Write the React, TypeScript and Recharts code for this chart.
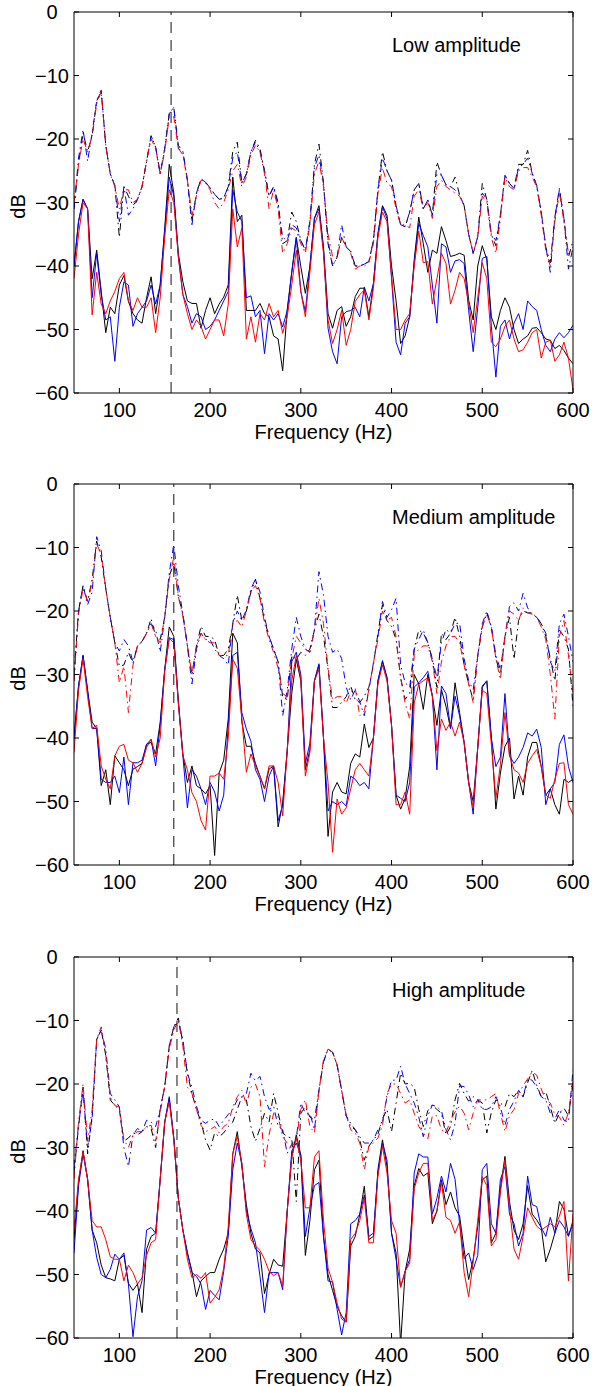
import { LineChart, Line, XAxis, YAxis, ReferenceLine } from "recharts";

const FONT = '"Liberation Sans", Arial, Helvetica, sans-serif';

// frequency grid (Hz)
const freqs = [
  50, 55, 60, 65, 70, 75, 80, 85, 90, 95,
  100, 105, 110, 115, 120, 125, 130, 135, 140, 145,
  150, 155, 160, 165, 170, 175, 180, 185, 190, 195,
  200, 205, 210, 215, 220, 225, 230, 235, 240, 245,
  250, 255, 260, 265, 270, 275, 280, 285, 290, 295,
  300, 305, 310, 315, 320, 325, 330, 335, 340, 345,
  350, 355, 360, 365, 370, 375, 380, 385, 390, 395,
  400, 405, 410, 415, 420, 425, 430, 435, 440, 445,
  450, 455, 460, 465, 470, 475, 480, 485, 490, 495,
  500, 505, 510, 515, 520, 525, 530, 535, 540, 545,
  550, 555, 560, 565, 570, 575, 580, 585, 590, 595,
  600,
];

const xTicks = [100, 200, 300, 400, 500, 600];
const yTicks = [0, -10, -20, -30, -40, -50, -60];

// ---- Low amplitude ----
const lowDashBlack = [
  -31, -24, -19, -22, -19.5, -14, -12.5, -21, -25.5, -27.3,
  -35.5, -27.5, -29, -30.5, -29.5, -27.5, -23.5, -19.5, -21.3, -25.5,
  -21.5, -16, -15, -21, -22, -26.5, -33, -28.5, -26.3, -26.8,
  -27.7, -28.7, -29.5, -29.3, -27.5, -22, -20.5, -27, -25.5, -22,
  -20.2, -21.5, -25, -29, -27.5, -30, -36.5, -36, -31.5, -33,
  -36, -37.5, -33, -24, -20.8, -27, -36.5, -40, -38.6, -35.5,
  -37, -37.7, -40, -40, -39.7, -39.3, -36, -28, -22, -25,
  -26.5, -30.5, -33.5, -33.8, -31.5, -28, -27, -31, -29.6, -32,
  -23.6, -25.7, -27.2, -27.5, -26, -28.8, -30.5, -35, -38, -35.4,
  -27, -29.5, -35, -36.8, -32, -25.7, -27, -27.8, -24, -24,
  -21.8, -25.4, -27.3, -31.5, -37, -39.5, -32.3, -27.8, -32.5, -38.6,
  -36,
];
const lowDashBlue = [
  -31, -23, -18.5, -23.5, -19, -14, -12.3, -21, -25.5, -27.3,
  -33, -27.5, -32, -31, -29.5, -27.5, -23.5, -19.5, -21.3, -25.5,
  -21.5, -16, -15, -21.5, -22, -26.5, -33.5, -28.5, -26.3, -26.8,
  -27.7, -28.7, -29.5, -29.3, -27.5, -23, -22, -27, -25.5, -22,
  -20.5, -22, -25, -29, -27.5, -30.5, -35.5, -36, -33.5, -34,
  -36, -37.5, -33, -24.5, -22.5, -27, -36, -40, -38.6, -33.5,
  -37, -37.7, -40, -40, -39.7, -39.3, -36, -28, -23, -25,
  -26.5, -30.5, -33.5, -33.8, -31.5, -28, -27, -31, -29.6, -32,
  -25.5, -25.7, -27.2, -27.5, -28, -28.8, -30.5, -35, -38, -35.4,
  -28.5, -29.5, -35, -36, -32, -25.7, -27, -27.8, -24.5, -24,
  -23, -25.4, -27.3, -31.5, -37, -41, -32.3, -28, -32.5, -40.5,
  -37,
];
const lowDashRed = [
  -30, -24, -20, -22, -19.5, -14.5, -12.5, -21, -25.5, -27.5,
  -31, -28, -28, -30, -29.5, -27.5, -23.5, -20, -21.5, -25.5,
  -22, -16.5, -16.5, -21.5, -22.5, -26.5, -32, -29, -26.5, -27,
  -28, -30, -31, -30, -28, -25, -24, -27.5, -26, -22.5,
  -21, -22, -25.5, -31, -28, -31, -38, -36.5, -34, -34.5,
  -36.5, -38, -33.5, -25.5, -23.5, -27.5, -35, -38.5, -38.6, -35.5,
  -37, -38, -40.5, -40, -40, -39.5, -36.5, -28.5, -24.5, -27,
  -27.5, -31, -33.5, -33.5, -34, -29, -28, -31, -30, -32.5,
  -27.5, -26.5, -27.5, -28, -28.5, -29, -30.5, -35, -38, -35.4,
  -29, -30, -35.5, -38, -32.5, -26, -27.5, -28, -25, -24.5,
  -24.5, -26, -27.5, -32, -37.5, -40, -33, -28.5, -33, -38,
  -37,
];
const lowSolidBlack = [
  -40, -33, -29.5, -31, -42, -37.5, -44, -50.5, -46.5, -47.5,
  -43, -41.5, -45.6, -47.5, -48.5, -49, -45, -41.7, -47.5, -43,
  -34, -24, -28.5, -38, -42.5, -45.5, -45.9, -45.9, -49.8, -47,
  -45, -47.5, -46, -44.9, -43, -26, -33, -32, -47, -47,
  -47, -45.9, -47.5, -48, -51, -51.5, -56.5, -47, -41, -35.5,
  -40.1, -44.3, -40.1, -32.5, -30.5, -37, -47.5, -49.8, -47, -46.4,
  -49.5, -48, -44.8, -43.5, -43.5, -48, -42.8, -34.9, -30.5, -32,
  -40, -45.5, -52.2, -51, -48, -39, -32.3, -36.5, -41, -37.5,
  -38, -33.8, -36, -38.5, -38.3, -38, -38.3, -45.4, -48.5, -40,
  -36.8, -39, -48, -50, -47, -45, -46.5, -50, -52.2, -51.5,
  -51, -49.8, -49.7, -50.5, -51.5, -51.7, -53, -52.5, -53.3, -54.5,
  -55.4,
];
const lowSolidBlue = [
  -40, -33, -29.5, -31, -45, -38, -44.5, -48.5, -48, -55,
  -46.5, -42.5, -43, -49.5, -47.5, -46.5, -45.5, -43, -46, -43,
  -34.5, -26, -29, -38.5, -44.5, -46.4, -49, -47.5, -48, -50,
  -49.5, -48.5, -47, -45.5, -44, -28, -31.5, -33, -45, -44.7,
  -48, -47, -53.8, -47.5, -48.5, -47.5, -49.6, -47, -41, -35.5,
  -44, -47.2, -40, -32.5, -31, -37.5, -49.8, -53.5, -55.4, -48,
  -47.2, -47, -46.5, -48, -43.3, -45.5, -42.8, -35, -30.7, -32.5,
  -42, -52, -54, -49, -48, -39.5, -33.3, -35.2, -37, -43,
  -49, -36.5, -37, -41, -39.2, -39, -39.6, -47, -53.5, -46.5,
  -38.8, -38.5, -49.5, -57.5, -49.5, -48.5, -51.5, -49, -47.5, -50,
  -45.5, -46.4, -47, -50, -52.5, -53.5, -51.5, -50.5, -51.3, -50.5,
  -49.3,
];
const lowSolidRed = [
  -42, -35, -30, -31, -47.7, -41, -46, -47.5, -45.5, -44,
  -42, -41, -45.5, -47, -45, -46.5, -46.5, -45, -50.5, -45,
  -35.5, -28, -30, -38.5, -44.5, -47.5, -50, -48.5, -49.5, -51.5,
  -50, -48.5, -48.5, -51, -46, -31, -37, -34, -51.5, -48,
  -52, -47.5, -48.5, -45.9, -48, -47, -50.6, -48, -43, -37.5,
  -44, -48, -41, -33.5, -31.5, -38, -48.5, -52.2, -50, -47,
  -52.5, -50, -45.6, -44.5, -43.8, -48.5, -43.5, -35.5, -31.5, -33,
  -41.5, -50, -50, -48.5, -47.5, -40, -34.5, -39.5, -39.3, -46,
  -42, -38, -39.6, -46, -43.8, -41, -42, -45.8, -50.5, -45,
  -39.5, -42, -52, -52.7, -51.5, -49.5, -48.5, -51.5, -53.5, -53.2,
  -52, -50.5, -50, -54.5, -52, -51.7, -55, -54, -52, -54.5,
  -59.5,
];

// ---- Medium amplitude ----
const medDashBlack = [
  -30, -20, -16, -18.5, -15, -9, -11.5, -16.5, -21, -25,
  -28.7, -28.5, -26.5, -28.2, -25.5, -24.8, -23.5, -21.2, -24, -24.5,
  -21, -14.5, -12.5, -17.7, -20.5, -25.5, -30, -25.5, -22.4, -24,
  -24, -24.5, -27, -27, -26, -22, -17.5, -21.5, -20, -17,
  -15, -18, -21.5, -24, -26, -28, -33.5, -34, -27, -27.6,
  -26.5, -27, -26, -23, -20.5, -24, -29.2, -35.2, -35.2, -34.4,
  -33.5, -31.8, -34, -34.4, -33.4, -32, -28.5, -23.5, -19, -21.5,
  -22.4, -24.5, -30.5, -33.9, -33, -26, -23, -23.5, -25, -27.6,
  -32, -23.5, -24.5, -23.5, -21, -24, -28.5, -31.5, -34, -27.1,
  -22.5, -20.3, -22.5, -27.5, -30, -24, -21, -27.6, -21.5, -20,
  -20.3, -20.3, -21, -22, -24, -27.5, -31, -23, -24, -26,
  -35,
];
const medDashBlue = [
  -31, -20, -16, -19, -17, -8.3, -10.5, -16.5, -21, -25,
  -26.3, -24.5, -25.5, -28, -25.5, -24.8, -23.5, -22, -23, -26.5,
  -21, -14, -9.5, -16, -20.5, -25.5, -31.5, -26, -23.5, -24.5,
  -24.5, -26, -27, -27.5, -28.5, -22, -20, -21.5, -19.8, -16.5,
  -15, -17, -21, -24, -26, -28, -36.5, -32.5, -26, -21,
  -24, -26, -26.5, -23, -13.8, -17.5, -24, -26.5, -26, -27.5,
  -32, -34, -32.4, -34.3, -36.5, -32.4, -28.2, -24, -18.5, -21,
  -19.8, -18, -28.5, -31.3, -32, -26, -24.5, -23, -25, -27.6,
  -30.5, -25, -22.9, -23.5, -22, -21.9, -27.5, -31, -32.4, -27,
  -22, -20, -22.5, -27, -29.2, -24, -19.3, -18.7, -20, -17.2,
  -19.5, -20.5, -21, -22, -23.5, -28, -29.5, -22, -20.5, -24,
  -28,
];
const medDashRed = [
  -31, -20.5, -16.5, -18.5, -15.5, -9.5, -11, -16.5, -21, -25,
  -31.3, -28.7, -36, -28.5, -25.5, -24.8, -23.5, -22, -24, -25,
  -21, -15, -11.5, -17.7, -20.8, -25.5, -30, -25.5, -23.5, -24.5,
  -25, -25, -27, -27, -27, -22, -21.5, -22.5, -20, -17,
  -16, -18, -21.9, -24.5, -26.5, -29, -33, -33.5, -27.5, -24,
  -25, -26, -26.5, -23, -18, -22, -29, -34, -33.5, -33.5,
  -34.5, -32.7, -32.2, -36.5, -35.7, -32.4, -28.2, -24.5, -20, -21.5,
  -21, -24, -30.5, -34.5, -37, -27, -26, -25.5, -25.5, -28,
  -33, -28, -25.5, -24, -24, -25, -28.5, -31.5, -34.4, -27,
  -22.5, -20.5, -22.5, -27.5, -30.8, -24, -20, -20.5, -21.5, -19.5,
  -20.3, -20.5, -21, -22.5, -24.5, -30, -37, -24, -21.5, -27,
  -33,
];
const medSolidBlack = [
  -39.7, -31.8, -27, -32.5, -37.5, -38.5, -47.5, -45, -50.5, -42.8,
  -43.9, -45, -47.5, -44.9, -44.5, -44, -41, -40.7, -42.5, -37.5,
  -29.2, -22.5, -24, -34, -42.5, -47, -44.4, -47.5, -48, -48.8,
  -47.5, -58.5, -45.5, -43.5, -37, -23.5, -25, -37.5, -41.3, -41.3,
  -44, -46, -48, -44.9, -44.4, -54, -50.2, -42, -33, -27.6,
  -31, -45, -41.8, -31, -28.5, -40, -55.5, -48.5, -47, -48.5,
  -48.8, -44, -42.5, -43, -37.8, -41.5, -40, -31, -28, -30.5,
  -38, -49, -51.2, -49.5, -44.5, -30, -31.5, -35.5, -30, -33.4,
  -38, -32.4, -35, -38.5, -31.3, -36, -40.7, -47, -50, -41.5,
  -32, -31, -40, -51.2, -45.5, -41.3, -40, -49.6, -46, -49,
  -43, -40.7, -40.7, -44.5, -49, -48, -50.5, -52, -46.5, -47,
  -46.5,
];
const medSolidBlue = [
  -40.2, -31.8, -27, -32.5, -38.5, -38.5, -46.5, -47, -47, -46,
  -48.6, -43, -50.5, -43.9, -43.9, -43.5, -41, -40.2, -44.4, -38,
  -29.2, -24.2, -24.5, -34.5, -42.8, -51, -45, -46, -48, -50.5,
  -47, -48.5, -51.5, -49, -38, -27, -26.5, -36, -38.6, -40.5,
  -45, -46.5, -50, -46, -44.4, -53, -50.7, -42, -28, -26.5,
  -30, -44, -40.8, -31, -28.3, -40, -51.5, -50, -50.5, -50,
  -50.7, -46, -46.5, -47.5, -47, -48, -40, -31, -27.8, -30.5,
  -38, -49, -49.5, -50, -47, -32, -31.3, -30.5, -29.5, -33.4,
  -45, -31.8, -33, -38.5, -33.4, -36.5, -40.7, -47, -52, -41.5,
  -31.8, -31, -40, -44.5, -43, -33, -42.8, -44, -43, -41.5,
  -39.2, -39.7, -38.6, -41.5, -50.5, -48, -47, -41, -39.5, -44.5,
  -47,
];
const medSolidRed = [
  -42.3, -32.5, -27.5, -33.5, -38.5, -38, -44.4, -46.5, -48, -42.8,
  -41.3, -41, -43.5, -43.9, -45.4, -44, -41.5, -40.2, -43, -40,
  -29.5, -24.3, -25, -34.5, -42.8, -45, -48.6, -50, -53, -54.5,
  -46, -46, -45.5, -46.5, -40, -27.6, -29, -37, -45.4, -42.5,
  -44.4, -46, -48, -44.4, -44.4, -47, -52.3, -42, -31, -27,
  -30.5, -46, -42.3, -31, -29.2, -40, -47, -58, -49.6, -52,
  -51, -48, -45, -44, -45, -46, -40, -31.5, -28.5, -31,
  -38, -50.5, -50.5, -48.5, -52, -34.5, -31.5, -31, -30.5, -33.4,
  -42, -37, -38.8, -37.5, -39.7, -37.5, -40.7, -47, -51, -41.5,
  -32.5, -33, -41, -49.5, -44.2, -36, -42.8, -45, -45.5, -47,
  -44, -42.8, -41.8, -44.5, -49, -49.5, -46.5, -44, -43.9, -50.5,
  -52,
];

// ---- High amplitude ----
const highDashBlack = [
  -34, -26.7, -20.5, -31, -25, -13, -11.5, -15.5, -22.5, -23.4,
  -24, -29, -28.5, -27.7, -28, -27.5, -26.7, -27, -30, -24,
  -20.4, -14, -11, -9.6, -13.5, -18.3, -21.5, -24, -26, -28.8,
  -30.4, -27.7, -28.3, -27.7, -26.7, -26, -24, -22, -22.5, -26.7,
  -29, -27, -24.6, -26, -21.5, -24.5, -27.7, -28.3, -28.5, -38.5,
  -24.6, -23.6, -25.2, -25.7, -21, -16.5, -14.5, -15, -17, -21,
  -25, -26.2, -27.2, -28.8, -32, -29.8, -28.8, -27.9, -25.5, -24,
  -27.5, -23, -18.3, -20, -19.9, -20.5, -24, -26.7, -24.2, -23.3,
  -24, -24.6, -28, -26.7, -22.5, -19.9, -21.5, -22.7, -22, -22.5,
  -23, -27.7, -24.5, -22.5, -23, -23.6, -21.5, -22, -21, -22,
  -19.8, -17.9, -20.2, -22, -21.2, -23.6, -26.2, -24.6, -23.8, -25,
  -20,
];
const highDashBlue = [
  -33, -26.5, -21, -30, -25.5, -13, -11.5, -14.5, -21.5, -22.5,
  -23.6, -30, -33, -28, -27, -27.5, -25.7, -26, -26.7, -24,
  -20.4, -14, -11, -10, -13, -18.3, -20.5, -23.5, -25.7, -26.2,
  -25.7, -25.5, -26.7, -25.7, -24.8, -24, -22.5, -22, -21.5, -18.3,
  -19.5, -18.8, -22, -24, -23.5, -26.7, -27.2, -30.9, -29.5, -28.5,
  -23, -24.6, -24.6, -27.2, -21, -16.5, -14.5, -15, -17, -21,
  -25, -26.7, -27.2, -28.3, -29.3, -29.3, -28.8, -27.2, -26, -22,
  -19.4, -19.4, -17.2, -20, -21.5, -23, -25.2, -28.3, -25, -23.3,
  -23.6, -24.2, -27.2, -28.8, -26.2, -20.3, -20.4, -21.7, -23.6, -22.5,
  -24, -24, -23.6, -22, -23.6, -26.5, -24, -22.7, -21, -22,
  -19.2, -19.4, -20.5, -22, -22.5, -24.6, -25.5, -24, -25.7, -26,
  -17.8,
];
const highDashRed = [
  -35, -26, -20, -29, -24, -13, -11, -15.5, -22, -23.4,
  -23.6, -28.8, -30, -28, -27.5, -27.5, -26.7, -26.5, -29, -24.5,
  -20.4, -14.5, -11.5, -10, -14, -20.5, -21.5, -24, -26.5, -27.5,
  -27.2, -26.7, -27.7, -26.7, -26.2, -23.6, -22, -21, -23.2, -20.5,
  -20, -22, -33, -28, -24.6, -25.2, -28.3, -29.3, -30, -28.8,
  -24, -22.5, -26.7, -27.7, -21, -16.2, -14.5, -15, -17, -21,
  -25, -27.2, -27.7, -29.3, -33.5, -29.8, -29.3, -28.5, -26.5, -21.5,
  -20, -20, -21.5, -23, -22.5, -24.6, -26.7, -27.7, -28.6, -25,
  -25, -27.2, -27.7, -25.7, -24.4, -23.5, -24.6, -27.2, -24.6, -22.5,
  -22.5, -22.5, -22, -21.5, -24.6, -27.5, -25, -24, -21.5, -20.3,
  -19.2, -18.1, -18.6, -20.8, -22.5, -23, -24.8, -25.2, -26.5, -24.5,
  -19.4,
];
const highSolidBlack = [
  -44.5, -35.5, -30.5, -35, -43, -45, -48.5, -50.5, -50.7, -51,
  -47.6, -47, -51.4, -52.5, -51.5, -56, -46, -44, -43.5, -35,
  -26, -22.3, -28.5, -38, -43, -46.6, -49.5, -53.5, -51, -50.3,
  -49.7, -49.7, -47.6, -46, -43.5, -31, -27.5, -33, -39, -43.5,
  -46, -46.6, -53, -50, -47.6, -48.5, -48.7, -40, -31.5, -28,
  -31.2, -47, -41.5, -33.5, -32, -44, -50, -52.5, -55, -56.5,
  -57.5, -45.5, -44, -40.5, -36.1, -44.5, -44, -33.5, -28.8, -33,
  -43.5, -46.6, -61, -49.5, -46, -36, -33.3, -34.5, -34, -42,
  -40, -35.1, -39, -37, -39.5, -40.8, -46.1, -50.8, -47.6, -42.4,
  -35.1, -34.5, -45, -43.5, -36.5, -31.4, -38.5, -43, -44.5, -42,
  -36, -40.5, -41.4, -42.6, -48, -46, -43.5, -38.5, -39.7, -43.9,
  -42,
];
const highSolidBlue = [
  -46.6, -36, -31, -35, -43, -47.3, -50, -50.5, -49.2, -46.8,
  -47.6, -46.6, -51.5, -59.8, -53.5, -51, -43, -42.6, -43.5, -35,
  -26, -22, -28.5, -38, -43, -46.6, -49.7, -50.3, -51.5, -55.5,
  -52.5, -53.3, -54, -49.5, -44, -33.5, -29.3, -32.5, -40, -42.8,
  -45, -50.3, -56, -49.7, -49.7, -49.7, -52.4, -40, -30.5, -29.3,
  -31.2, -44, -39.5, -36, -35.5, -44, -51, -51.2, -55.5, -59.5,
  -56, -42, -41.5, -40.5, -37.5, -44, -43.5, -34, -29.3, -32,
  -43.5, -47.6, -52, -49.5, -47.6, -34, -31, -31.5, -31.5, -40.5,
  -38, -34.5, -37, -32.5, -35, -42, -47.5, -46.6, -49.2, -47,
  -33.5, -32.5, -42, -43.5, -35, -33, -40.5, -42, -45.5, -43.5,
  -34.5, -39, -39.3, -42.6, -44, -41, -43.5, -41.5, -42.5, -44,
  -41.5,
];
const highSolidRed = [
  -42.9, -35, -30.7, -35, -41.5, -42.5, -42.5, -44.5, -47.2, -47.6,
  -47.6, -51, -48.5, -49.7, -51.5, -50.5, -47, -45, -44.5, -35,
  -26, -22.8, -28.8, -38, -43, -47.6, -50.5, -50, -50.6, -49.7,
  -54.5, -53.6, -52.4, -49, -42.5, -31, -28.2, -32.5, -40.5, -44.5,
  -45.5, -46.2, -47.6, -49.5, -50.2, -49.7, -51.8, -40, -31.5, -28.5,
  -32, -39.5, -39.5, -31.5, -30.5, -41.5, -49, -51.2, -54.5, -57,
  -57.5, -44.5, -43.5, -41.5, -38, -45, -45, -34.5, -29.8, -34,
  -41.5, -43.5, -52, -49.5, -48.2, -36.5, -34, -32.5, -32.5, -41.5,
  -40, -35.5, -41, -41.5, -43.5, -41.7, -49.7, -53.5, -48, -41.5,
  -34.6, -36, -45.5, -44.5, -37, -32, -39.5, -46, -47.6, -44,
  -39.5, -41, -42.4, -43, -42.5, -42, -42.5, -40.8, -38.5, -51,
  -40.5,
];

const minus = (v: number) => String(v).replace("-", "\u2212");

function LeftTick({ x, y, payload }: any) {
  return (
    <g>
      <line x1={x} y1={y} x2={x + 5} y2={y} stroke="#000" />
      <text x={x - 22} y={y} dy="0.36em" textAnchor="middle" fontSize={20} fontFamily={FONT} fill="#000">
        {minus(payload.value)}
      </text>
    </g>
  );
}

function RightTick({ x, y }: any) {
  return <line x1={x} y1={y} x2={x - 5} y2={y} stroke="#000" />;
}

function BottomTick({ x, y, payload }: any) {
  return (
    <g>
      <line x1={x} y1={y} x2={x} y2={y - 5} stroke="#000" />
      <text x={x} y={y + 17} dy="0.36em" textAnchor="middle" fontSize={20} fontFamily={FONT} fill="#000">
        {payload.value}
      </text>
    </g>
  );
}

function TopTick({ x, y }: any) {
  return <line x1={x} y1={y} x2={x} y2={y + 5} stroke="#000" />;
}

function DbLabel({ viewBox }: any) {
  const vb = viewBox ?? { x: 0, y: 12, width: 74, height: 381 };
  const cx = vb.x + 18;
  const cy = vb.y + vb.height / 2 + 4;
  return (
    <text x={cx} y={cy} dy="0.36em" transform={`rotate(-90 ${cx} ${cy})`} textAnchor="middle" fontSize={20} fontFamily={FONT} fill="#000">
      dB
    </text>
  );
}

function TitleLabel({ viewBox, text }: any) {
  const vb = viewBox ?? { x: 74, y: 11, width: 499, height: 1 };
  return (
    <text x={vb.x + vb.width - 181} y={vb.y + vb.height + 39.5} fontSize={20} fontFamily={FONT} fill="#000">
      {text}
    </text>
  );
}

type PanelProps = {
  title: string;
  marker: number;
  solid: number[][];
  dash: number[][];
};

const COLORS = ["#000000", "#0000ff", "#ff0000"];

function Panel({ title, marker, solid, dash }: PanelProps) {
  const rows = freqs.map((f, i) => ({
    f,
    d0: dash[0][i],
    d1: dash[1][i],
    d2: dash[2][i],
    s0: solid[0][i],
    s1: solid[1][i],
    s2: solid[2][i],
  }));
  return (
    <LineChart width={592} height={452} data={rows} margin={{ top: 11, right: 18, bottom: 12, left: 0 }} style={{ fontFamily: FONT }}>
      <XAxis
        xAxisId="top"
        orientation="top"
        type="number"
        dataKey="f"
        domain={[50, 600]}
        ticks={xTicks}
        interval={0}
        allowDataOverflow
        height={1}
        tickSize={0}
        tickMargin={0}
        tickLine={false}
        stroke="#000"
        tick={(p: any) => <TopTick {...p} />}
        label={<TitleLabel text={title} />}
      />
      <XAxis
        type="number"
        dataKey="f"
        domain={[50, 600]}
        ticks={xTicks}
        interval={0}
        allowDataOverflow
        height={47}
        tickSize={0}
        tickMargin={0}
        tickLine={false}
        stroke="#000"
        tick={(p: any) => <BottomTick {...p} />}
        label={{ value: "Frequency (Hz)", position: "insideBottom", offset: 1, fontSize: 20, fontFamily: FONT, fill: "#000" }}
      />
      <YAxis
        type="number"
        domain={[-60, 0]}
        ticks={yTicks}
        interval={0}
        allowDataOverflow
        width={74}
        tickSize={0}
        tickMargin={0}
        tickLine={false}
        stroke="#000"
        tick={(p: any) => <LeftTick {...p} />}
        label={<DbLabel />}
      />
      <YAxis
        yAxisId="right"
        orientation="right"
        type="number"
        domain={[-60, 0]}
        ticks={yTicks}
        interval={0}
        allowDataOverflow
        width={1}
        tickSize={0}
        tickMargin={0}
        tickLine={false}
        stroke="#000"
        tick={(p: any) => <RightTick {...p} />}
      />
      {[0, 1, 2].map((k) => (
        <Line
          key={`d${k}`}
          type="linear"
          dataKey={`d${k}`}
          stroke={COLORS[k]}
          strokeWidth={1}
          strokeDasharray="7 4 1.5 4"
          dot={false}
          activeDot={false}
          isAnimationActive={false}
        />
      ))}
      {[0, 1, 2].map((k) => (
        <Line
          key={`s${k}`}
          type="linear"
          dataKey={`s${k}`}
          stroke={COLORS[k]}
          strokeWidth={1}
          dot={false}
          activeDot={false}
          isAnimationActive={false}
        />
      ))}
      <ReferenceLine x={marker} stroke="#111" strokeWidth={1} strokeDasharray="11 7" />
    </LineChart>
  );
}

export default function App() {
  return (
    <div style={{ position: "absolute", left: 0, top: 0, width: 592, height: 1386, background: "#fff", overflow: "hidden" }}>
      <div style={{ position: "absolute", left: 0, top: 0 }}>
        <Panel
          title="Low amplitude"
          marker={157}
          solid={[lowSolidBlack, lowSolidBlue, lowSolidRed]}
          dash={[lowDashBlack, lowDashBlue, lowDashRed]}
        />
      </div>
      <div style={{ position: "absolute", left: 0, top: 472 }}>
        <Panel
          title="Medium amplitude"
          marker={160}
          solid={[medSolidBlack, medSolidBlue, medSolidRed]}
          dash={[medDashBlack, medDashBlue, medDashRed]}
        />
      </div>
      <div style={{ position: "absolute", left: 0, top: 945 }}>
        <Panel
          title="High amplitude"
          marker={163.5}
          solid={[highSolidBlack, highSolidBlue, highSolidRed]}
          dash={[highDashBlack, highDashBlue, highDashRed]}
        />
      </div>
    </div>
  );
}
